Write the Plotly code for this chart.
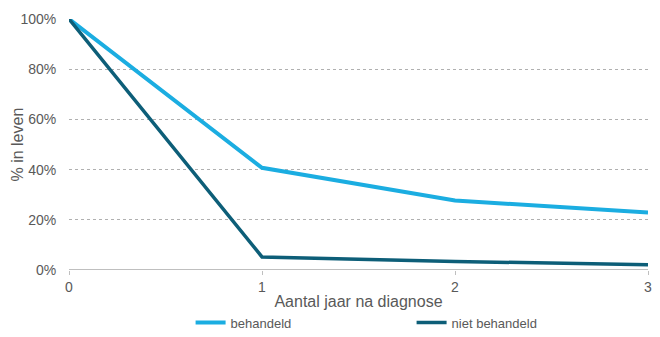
import plotly.graph_objects as go

years = [0, 1, 2, 3]
behandeld = [100, 40.7, 27.7, 22.9]
niet_behandeld = [100, 5.2, 3.4, 2.1]
y_ticks = [0, 20, 40, 60, 80, 100]
y_tick_labels = ["0%", "20%", "40%", "60%", "80%", "100%"]

grey = "#595959"
fig = go.Figure()
fig.add_trace(go.Scatter(x=years, y=behandeld, mode="lines", name="behandeld",
                         line=dict(color="#1BADE1", width=4)))
fig.add_trace(go.Scatter(x=years, y=niet_behandeld, mode="lines", name="niet behandeld",
                         line=dict(color="#0D5E78", width=3.5)))

fig.update_layout(
    width=660, height=337,
    margin=dict(l=69, r=12, t=19, b=67, autoexpand=False),
    paper_bgcolor="white", plot_bgcolor="white",
    font=dict(family="Liberation Sans, Arial", color=grey, size=14),
    showlegend=True,
    legend=dict(orientation="h", x=0.21, xanchor="left", y=-0.15, yanchor="top",
                entrywidth=176, entrywidthmode="pixels",
                font=dict(size=13, color=grey), itemwidth=30,
                bgcolor="rgba(0,0,0,0)"),
    xaxis=dict(range=[0, 3], tickvals=years, ticks="outside", ticklen=4,
               tickcolor="#bfbfbf", showgrid=False, showline=False, zeroline=False,
               title=dict(text="Aantal jaar na diagnose", font=dict(size=16, color=grey), standoff=2),
               tickfont=dict(size=14, color=grey)),
    yaxis=dict(range=[0, 100], tickvals=y_ticks, ticktext=y_tick_labels,
               showgrid=True, gridcolor="#b0b0b0", griddash="dot", gridwidth=1,
               zeroline=False, showline=False, ticks="outside", ticklen=9,
               tickcolor="rgba(0,0,0,0)",
               tickfont=dict(size=14, color=grey)),
    annotations=[dict(text="% in leven", textangle=-90, xref="paper", yref="paper",
                      x=(17 - 69) / 579, y=0.5, xanchor="center", yanchor="middle",
                      showarrow=False, font=dict(size=16, color=grey))],
)
fig.add_shape(type="line", xref="paper", yref="y", x0=0, x1=1, y0=0, y1=0,
              line=dict(color="#bfbfbf", width=2), layer="below")
fig.write_html("out.html")
